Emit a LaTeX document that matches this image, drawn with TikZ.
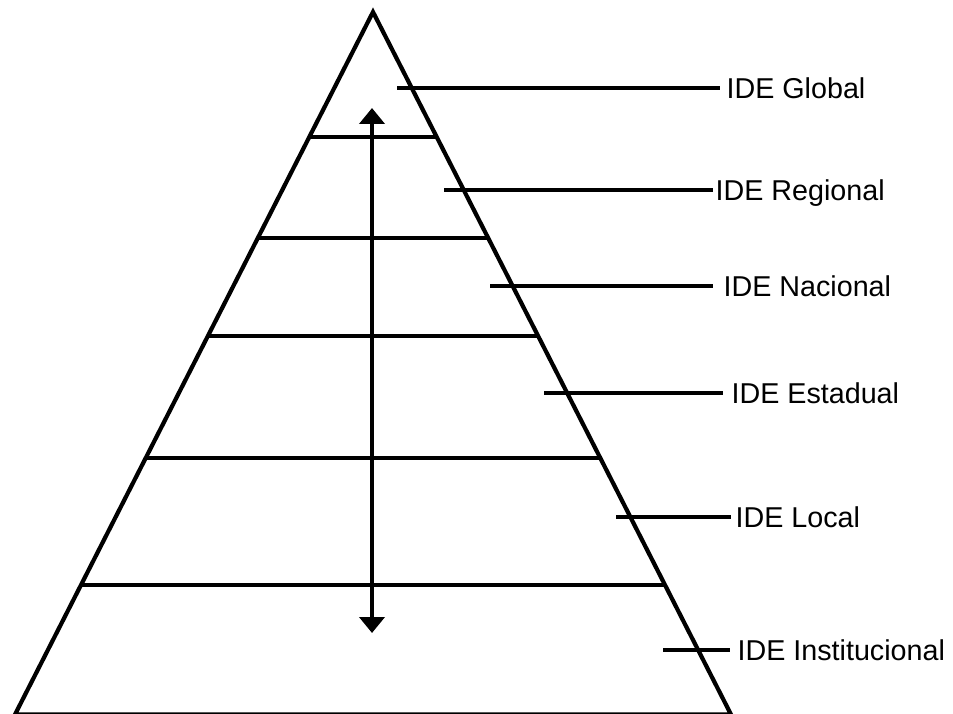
\documentclass[tikz,border=0pt]{standalone}
\usepackage{fontspec}
\setmainfont{Liberation Sans}
\usetikzlibrary{calc,arrows.meta}

\tikzset{levtip/.tip={Triangle[length=16pt,width=25pt]}}

\begin{document}
\begin{tikzpicture}[x=1pt,y=-1pt,
  thick line/.style={line width=4.2pt,line cap=butt},
  level label/.style={anchor=west,inner sep=0pt,text height=20.5pt,text depth=0pt,
    font=\fontsize{28.7}{34}\selectfont}]
  \useasboundingbox (0,0) rectangle (953,714);

  % pyramid outline
  \coordinate (apex) at (373,12);
  \coordinate (bl) at (15,714.5);
  \coordinate (br) at (731,714.5);
  \draw[thick line,line join=miter] (apex) -- (bl) -- (br) -- cycle;

  % horizontal divisions between levels
  \foreach \name/\yy in {d1/137,d2/238,d3/336,d4/458,d5/585}{
    \pgfmathsetmacro{\t}{(\yy-12)/702.5}
    \coordinate (\name l) at ($(apex)!\t!(bl)$);
    \coordinate (\name r) at ($(apex)!\t!(br)$);
    \draw[thick line] (\name l) -- (\name r);
  }

  % two-way arrow through the levels
  \coordinate (arrtop) at (372,108);
  \coordinate (arrbot) at (372,633);
  \draw[thick line,levtip-levtip] (arrtop) -- (arrbot);

  % level labels
  \node[level label] (glob) at (726.4,88) {IDE Global};
  \node[level label] (regi) at (715.4,190) {IDE Regional};
  \node[level label] (naci) at (723.4,286) {IDE Nacional};
  \node[level label] (esta) at (731.4,393) {IDE Estadual};
  \node[level label] (loca) at (735.4,517) {IDE Local};
  \node[level label] (inst) at (737.4,650) {IDE Institucional};

  % leaders from each level to its label
  \coordinate (s1) at (397,88);
  \coordinate (s2) at (444,190);
  \coordinate (s3) at (490,286);
  \coordinate (s4) at (544,393);
  \coordinate (s5) at (616,517);
  \coordinate (s6) at (663,650);
  \draw[thick line] (s1) -- ([xshift=-6.4pt]glob.west);
  \draw[thick line] (s2) -- ([xshift=-2.4pt]regi.west);
  \draw[thick line] (s3) -- ([xshift=-10.4pt]naci.west);
  \draw[thick line] (s4) -- ([xshift=-8.4pt]esta.west);
  \draw[thick line] (s5) -- ([xshift=-4.4pt]loca.west);
  \draw[thick line] (s6) -- ([xshift=-7.4pt]inst.west);
\end{tikzpicture}
\end{document}
